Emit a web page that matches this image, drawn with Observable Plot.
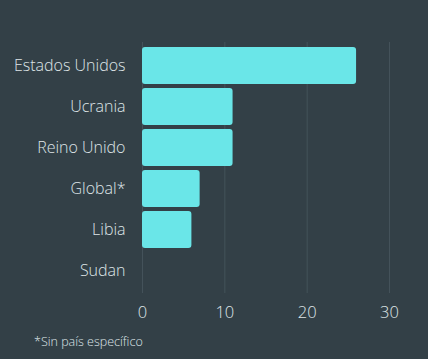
<!DOCTYPE html>
<html>
<head>
<meta charset="utf-8">
<script src="https://cdn.jsdelivr.net/npm/d3@7"></script>
<script src="https://cdn.jsdelivr.net/npm/@observablehq/plot@0.6"></script>
<style>
  html, body { margin: 0; padding: 0; background: #334047; }
  body { width: 428px; height: 359px; overflow: hidden; font-family: "Open Sans", sans-serif; }
  #chart svg { display: block; }
  #caption { color: #dfe5e7; font-size: 12.5px; font-weight: 300; margin: 8px 0 0 34px; font-family: "Open Sans", sans-serif; }
</style>
</head>
<body>
<div id="chart"></div>
<div id="caption">*Sin país específico</div>
<script>
const categories = ["Estados Unidos", "Ucrania", "Reino Unido", "Global*", "Libia", "Sudan"];
const values = [26, 11, 11, 7, 6, 0];
const xTicks = [0, 10, 20, 30];

const data = categories.map((c, i) => ({ country: c, value: values[i] }));

const chart = Plot.plot({
  width: 428,
  height: 325,
  marginTop: 42,
  marginBottom: 32,
  marginLeft: 142,
  marginRight: 39,
  style: { background: "#334047", color: "#dfe5e7", fontFamily: "Open Sans, sans-serif", fontSize: "16px" },
  x: { domain: [0, 30], ticks: xTicks, label: null, tickSize: 0 },
  y: { domain: categories, label: null, paddingInner: 0.1, paddingOuter: 0.05, tickSize: 0 },
  marks: [
    Plot.gridX(xTicks, { stroke: "#44525a", strokeOpacity: 1, strokeWidth: 1 }),
    Plot.barX(data.filter(d => d.value > 0), { x: "value", y: "country", fill: "#6ae6e8", rx: 3 }),
    Plot.axisX({ ticks: xTicks, tickSize: 0, tickPadding: 13, fontSize: 16.5, fill: "#dfe5e7", fontWeight: 300, label: null }),
    Plot.axisY({ tickSize: 0, tickPadding: 17, fontSize: 16, fill: "#dfe5e7", fontWeight: 300, label: null })
  ]
});
document.getElementById("chart").appendChild(chart);
</script>
</body>
</html>
